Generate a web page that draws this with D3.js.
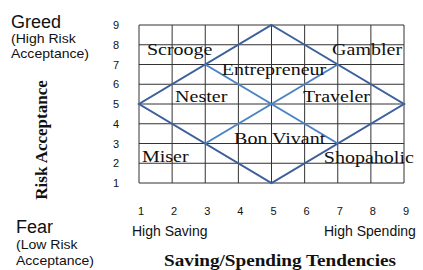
<!DOCTYPE html>
<html>
<head>
<meta charset="utf-8">
<script src="https://cdn.jsdelivr.net/npm/d3@7"></script>
<style>
  body { margin: 0; background: #fff; }
  svg { display: block; }
</style>
</head>
<body>
<svg id="chart" width="423" height="270"></svg>
<script>
// axis ticks
const xTicks = [1, 2, 3, 4, 5, 6, 7, 8, 9];
const yTicks = [1, 2, 3, 4, 5, 6, 7, 8, 9];

// outer diamond and the inner cross, in data units
const outerDiamond = [[5, 9], [9, 5], [5, 1], [1, 5]];
const innerLines = [
    [[3, 7], [7, 3]],
    [[3, 3], [7, 7]]
];

// personality types and where their label starts (data units)
const typeNames = ["Scrooge", "Gambler", "Entrepreneur", "Nester", "Traveler", "Bon Vivant", "Miser", "Shopaholic"];
const typeX = [1.24, 6.83, 3.5, 2.09, 5.95, 3.87, 1.09, 6.58];
const typeY = [7.48, 7.48, 6.47, 5.1, 5.1, 2.97, 2.06, 2.01];

const svg = d3.select("#chart");

const x = d3.scaleLinear().domain([1, 9]).range([139, 404]);
const y = d3.scaleLinear().domain([1, 9]).range([183, 25]);

const serif = "Liberation Serif, Times New Roman, serif";
const sans = "Liberation Sans, Arial, sans-serif";

// grid
const grid = svg.append("g");
grid.selectAll("line.v")
    .data(xTicks)
    .join("line")
    .attr("class", "v")
    .attr("x1", d => x(d)).attr("x2", d => x(d))
    .attr("y1", y(1)).attr("y2", y(9))
    .attr("stroke", "#333").attr("stroke-width", 1);
grid.selectAll("line.h")
    .data(yTicks)
    .join("line")
    .attr("class", "h")
    .attr("y1", d => y(d)).attr("y2", d => y(d))
    .attr("x1", x(1)).attr("x2", x(9))
    .attr("stroke", "#333").attr("stroke-width", 1);

// diamond
const line = d3.line().x(d => x(d[0])).y(d => y(d[1]));
svg.append("path")
    .attr("d", line(outerDiamond) + "Z")
    .attr("fill", "none")
    .attr("stroke", "#3d5f9c")
    .attr("stroke-width", 2);

svg.selectAll("path.inner")
    .data(innerLines)
    .join("path")
    .attr("class", "inner")
    .attr("d", line)
    .attr("fill", "none")
    .attr("stroke", "#4a82c4")
    .attr("stroke-width", 2);

// type labels (the source image is stretched sideways)
svg.selectAll("text.type")
    .data(typeNames)
    .join("text")
    .attr("class", "type")
    .attr("transform", (d, i) => `translate(${x(typeX[i])},${y(typeY[i])}) scale(1.25,1)`)
    .attr("font-family", serif)
    .attr("font-size", 16)
    .attr("fill", "#111")
    .text(d => d);

// tick labels
svg.selectAll("text.yt")
    .data(yTicks)
    .join("text")
    .attr("class", "yt")
    .attr("x", 116)
    .attr("y", d => y(d) + 4)
    .attr("text-anchor", "middle")
    .attr("font-family", sans)
    .attr("font-size", 11)
    .attr("fill", "#111")
    .text(d => d);

svg.selectAll("text.xt")
    .data(xTicks)
    .join("text")
    .attr("class", "xt")
    .attr("x", d => x(d) + 2)
    .attr("y", 215)
    .attr("text-anchor", "middle")
    .attr("font-family", sans)
    .attr("font-size", 11)
    .attr("fill", "#111")
    .text(d => d);

function addText(t, px, py, size, opts = {}) {
    const sx = opts.sx || 1;
    return svg.append("text")
        .attr("transform", `translate(${px},${py}) rotate(${opts.rotate || 0}) scale(${sx},1)`)
        .attr("font-family", opts.family || sans)
        .attr("font-size", size)
        .attr("font-weight", opts.weight || "normal")
        .attr("text-anchor", opts.anchor || "start")
        .attr("fill", "#111")
        .text(t);
}

addText("High Saving", 132, 236, 14);
addText("High Spending", 324, 236, 14);

addText("Greed", 11, 28, 18);
addText("(High Risk", 11, 43, 13, { sx: 1.08 });
addText("Acceptance)", 11, 58, 13, { sx: 1.08 });

addText("Fear", 16, 233, 18);
addText("(Low Risk", 16, 249, 13, { sx: 1.08 });
addText("Acceptance)", 16, 265, 13, { sx: 1.08 });

addText("Saving/Spending Tendencies", 280, 266, 16,
    { family: serif, weight: "bold", anchor: "middle", sx: 1.2 });

addText("Risk Acceptance", 47, 140, 17,
    { family: serif, weight: "bold", anchor: "middle", rotate: -90 });
</script>
</body>
</html>
